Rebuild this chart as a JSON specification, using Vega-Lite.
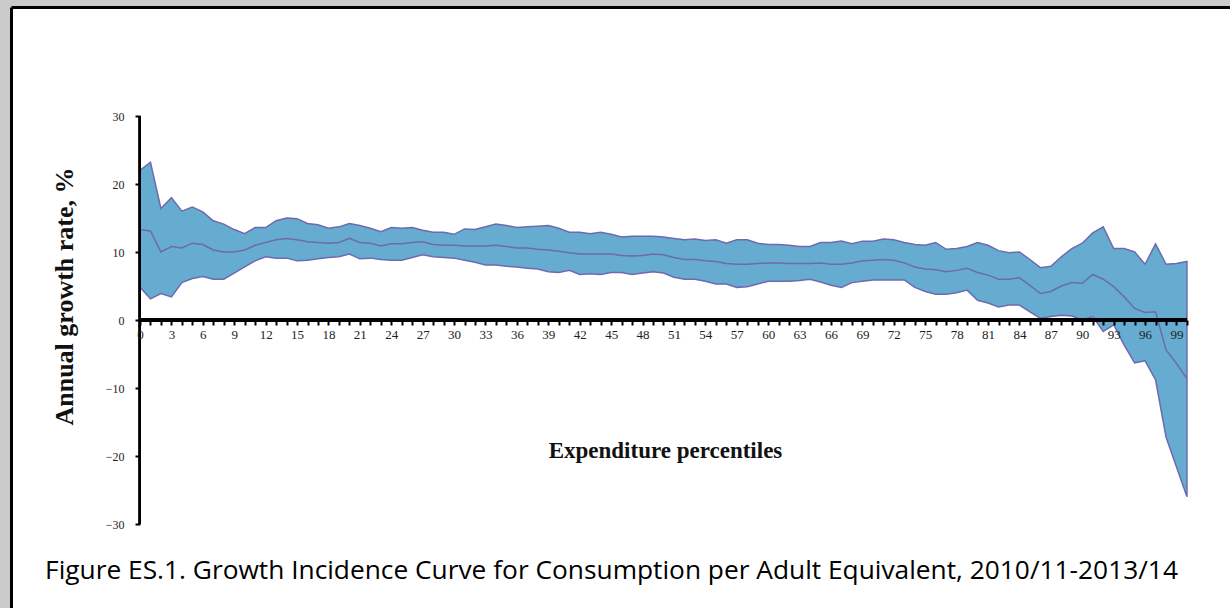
{
  "$schema": "https://vega.github.io/schema/vega-lite/v6.json",
  "width": 1219,
  "height": 601,
  "autosize": {"type": "none"},
  "padding": {"left": 11, "top": 7, "right": 0, "bottom": 0},
  "background": "#cbcbcb",
  "config": {"view": {"fill": "white", "stroke": null}},
  "title": {
    "text": "Figure ES.1. Growth Incidence Curve for Consumption per Adult Equivalent, 2010/11-2013/14",
    "orient": "bottom",
    "anchor": "middle",
    "frame": "group",
    "offset": -29,
    "baseline": "alphabetic",
    "font": "Open Sans",
    "fontSize": 26.3,
    "fontWeight": "normal",
    "color": "#000000",
    "dx": -9
  },
  "data": {
    "values": [
      {"p": 0, "lo": 4.8, "mid": 13.3, "hi": 22.0},
      {"p": 1, "lo": 3.1, "mid": 13.1, "hi": 23.2},
      {"p": 2, "lo": 3.9, "mid": 10.0, "hi": 16.4},
      {"p": 3, "lo": 3.4, "mid": 10.8, "hi": 18.0},
      {"p": 4, "lo": 5.5, "mid": 10.6, "hi": 16.0},
      {"p": 5, "lo": 6.1, "mid": 11.3, "hi": 16.6},
      {"p": 6, "lo": 6.4, "mid": 11.1, "hi": 15.9},
      {"p": 7, "lo": 6.0, "mid": 10.3, "hi": 14.6},
      {"p": 8, "lo": 6.0, "mid": 10.0, "hi": 14.1},
      {"p": 9, "lo": 6.9, "mid": 10.0, "hi": 13.3},
      {"p": 10, "lo": 7.8, "mid": 10.3, "hi": 12.7},
      {"p": 11, "lo": 8.7, "mid": 11.0, "hi": 13.6},
      {"p": 12, "lo": 9.3, "mid": 11.4, "hi": 13.6},
      {"p": 13, "lo": 9.1, "mid": 11.8, "hi": 14.6},
      {"p": 14, "lo": 9.1, "mid": 12.0, "hi": 15.0},
      {"p": 15, "lo": 8.7, "mid": 11.8, "hi": 14.9},
      {"p": 16, "lo": 8.8, "mid": 11.5, "hi": 14.2},
      {"p": 17, "lo": 9.0, "mid": 11.4, "hi": 14.0},
      {"p": 18, "lo": 9.2, "mid": 11.3, "hi": 13.5},
      {"p": 19, "lo": 9.3, "mid": 11.4, "hi": 13.7},
      {"p": 20, "lo": 9.7, "mid": 12.0, "hi": 14.2},
      {"p": 21, "lo": 9.0, "mid": 11.4, "hi": 13.9},
      {"p": 22, "lo": 9.1, "mid": 11.3, "hi": 13.5},
      {"p": 23, "lo": 8.9, "mid": 10.9, "hi": 13.0},
      {"p": 24, "lo": 8.8, "mid": 11.2, "hi": 13.6},
      {"p": 25, "lo": 8.8, "mid": 11.2, "hi": 13.5},
      {"p": 26, "lo": 9.2, "mid": 11.4, "hi": 13.6},
      {"p": 27, "lo": 9.6, "mid": 11.5, "hi": 13.2},
      {"p": 28, "lo": 9.3, "mid": 11.1, "hi": 12.9},
      {"p": 29, "lo": 9.2, "mid": 11.0, "hi": 12.9},
      {"p": 30, "lo": 9.1, "mid": 11.0, "hi": 12.6},
      {"p": 31, "lo": 8.8, "mid": 10.9, "hi": 13.4},
      {"p": 32, "lo": 8.5, "mid": 10.9, "hi": 13.3},
      {"p": 33, "lo": 8.1, "mid": 10.9, "hi": 13.7},
      {"p": 34, "lo": 8.1, "mid": 11.0, "hi": 14.1},
      {"p": 35, "lo": 7.9, "mid": 10.8, "hi": 13.9},
      {"p": 36, "lo": 7.8, "mid": 10.6, "hi": 13.6},
      {"p": 37, "lo": 7.6, "mid": 10.6, "hi": 13.7},
      {"p": 38, "lo": 7.5, "mid": 10.4, "hi": 13.8},
      {"p": 39, "lo": 7.1, "mid": 10.3, "hi": 13.9},
      {"p": 40, "lo": 7.0, "mid": 10.1, "hi": 13.5},
      {"p": 41, "lo": 7.3, "mid": 9.9, "hi": 12.9},
      {"p": 42, "lo": 6.7, "mid": 9.7, "hi": 12.9},
      {"p": 43, "lo": 6.8, "mid": 9.7, "hi": 12.7},
      {"p": 44, "lo": 6.7, "mid": 9.7, "hi": 12.9},
      {"p": 45, "lo": 7.0, "mid": 9.7, "hi": 12.6},
      {"p": 46, "lo": 7.0, "mid": 9.5, "hi": 12.2},
      {"p": 47, "lo": 6.7, "mid": 9.4, "hi": 12.3},
      {"p": 48, "lo": 6.9, "mid": 9.5, "hi": 12.3},
      {"p": 49, "lo": 7.1, "mid": 9.7, "hi": 12.3},
      {"p": 50, "lo": 6.9, "mid": 9.6, "hi": 12.2},
      {"p": 51, "lo": 6.3, "mid": 9.2, "hi": 12.0},
      {"p": 52, "lo": 6.0, "mid": 8.9, "hi": 11.8},
      {"p": 53, "lo": 6.0, "mid": 8.9, "hi": 11.9},
      {"p": 54, "lo": 5.7, "mid": 8.7, "hi": 11.7},
      {"p": 55, "lo": 5.3, "mid": 8.6, "hi": 11.8},
      {"p": 56, "lo": 5.3, "mid": 8.3, "hi": 11.3},
      {"p": 57, "lo": 4.8, "mid": 8.2, "hi": 11.8},
      {"p": 58, "lo": 4.9, "mid": 8.2, "hi": 11.8},
      {"p": 59, "lo": 5.3, "mid": 8.3, "hi": 11.3},
      {"p": 60, "lo": 5.7, "mid": 8.4, "hi": 11.1},
      {"p": 61, "lo": 5.7, "mid": 8.4, "hi": 11.1},
      {"p": 62, "lo": 5.7, "mid": 8.3, "hi": 11.0},
      {"p": 63, "lo": 5.8, "mid": 8.3, "hi": 10.8},
      {"p": 64, "lo": 6.0, "mid": 8.3, "hi": 10.8},
      {"p": 65, "lo": 5.6, "mid": 8.4, "hi": 11.4},
      {"p": 66, "lo": 5.1, "mid": 8.2, "hi": 11.4},
      {"p": 67, "lo": 4.8, "mid": 8.2, "hi": 11.6},
      {"p": 68, "lo": 5.5, "mid": 8.4, "hi": 11.2},
      {"p": 69, "lo": 5.7, "mid": 8.7, "hi": 11.6},
      {"p": 70, "lo": 5.9, "mid": 8.8, "hi": 11.6},
      {"p": 71, "lo": 5.9, "mid": 8.9, "hi": 11.9},
      {"p": 72, "lo": 5.9, "mid": 8.8, "hi": 11.8},
      {"p": 73, "lo": 5.9, "mid": 8.4, "hi": 11.4},
      {"p": 74, "lo": 4.8, "mid": 7.8, "hi": 11.1},
      {"p": 75, "lo": 4.2, "mid": 7.5, "hi": 11.0},
      {"p": 76, "lo": 3.8, "mid": 7.4, "hi": 11.4},
      {"p": 77, "lo": 3.8, "mid": 7.1, "hi": 10.4},
      {"p": 78, "lo": 4.0, "mid": 7.3, "hi": 10.5},
      {"p": 79, "lo": 4.4, "mid": 7.6, "hi": 10.8},
      {"p": 80, "lo": 2.9, "mid": 7.0, "hi": 11.4},
      {"p": 81, "lo": 2.5, "mid": 6.6, "hi": 11.0},
      {"p": 82, "lo": 1.9, "mid": 6.0, "hi": 10.2},
      {"p": 83, "lo": 2.2, "mid": 6.0, "hi": 9.9},
      {"p": 84, "lo": 2.2, "mid": 6.2, "hi": 10.0},
      {"p": 85, "lo": 1.2, "mid": 5.1, "hi": 8.9},
      {"p": 86, "lo": 0.25, "mid": 3.9, "hi": 7.7},
      {"p": 87, "lo": 0.5, "mid": 4.2, "hi": 7.9},
      {"p": 88, "lo": 0.7, "mid": 5.0, "hi": 9.3},
      {"p": 89, "lo": 0.6, "mid": 5.5, "hi": 10.5},
      {"p": 90, "lo": 0.0, "mid": 5.4, "hi": 11.3},
      {"p": 91, "lo": 0.5, "mid": 6.7, "hi": 12.8},
      {"p": 92, "lo": -1.7, "mid": 6.0, "hi": 13.7},
      {"p": 93, "lo": -0.7, "mid": 4.9, "hi": 10.5},
      {"p": 94, "lo": -3.7, "mid": 3.4, "hi": 10.5},
      {"p": 95, "lo": -6.3, "mid": 1.7, "hi": 10.0},
      {"p": 96, "lo": -6.0, "mid": 1.1, "hi": 8.2},
      {"p": 97, "lo": -8.8, "mid": 1.2, "hi": 11.2},
      {"p": 98, "lo": -17.2, "mid": -4.4, "hi": 8.2},
      {"p": 99, "lo": -21.6, "mid": -6.4, "hi": 8.3},
      {"p": 100, "lo": -26.0, "mid": -8.6, "hi": 8.6}
    ]
  },
  "layer": [
    {
      "mark": {"type": "area", "fill": "#66acd0", "stroke": "#6d6aae", "strokeWidth": 1.5, "opacity": 1, "fillOpacity": 1},
      "encoding": {
        "x": {
          "field": "p", "type": "quantitative",
          "scale": {"domain": [-12.32, 104.11], "nice": false, "zero": false},
          "axis": {
            "orient": "bottom", "offset": -288, "zindex": 2,
            "values": [0,1,2,3,4,5,6,7,8,9,10,11,12,13,14,15,16,17,18,19,20,21,22,23,24,25,26,27,28,29,30,31,32,33,34,35,36,37,38,39,40,41,42,43,44,45,46,47,48,49,50,51,52,53,54,55,56,57,58,59,60,61,62,63,64,65,66,67,68,69,70,71,72,73,74,75,76,77,78,79,80,81,82,83,84,85,86,87,88,89,90,91,92,93,94,95,96,97,98,99,100],
            "domain": false, "grid": false,
            "ticks": true, "tickSize": 5, "tickWidth": 2, "tickColor": "#000000",
            "labelExpr": "datum.value % 3 === 0 ? datum.label : ''",
            "labelFont": "Liberation Serif", "labelFontSize": 13, "labelColor": "#222222",
            "labelPadding": 3, "labelFlush": false, "labelOverlap": false, "labelBound": false,
            "title": "Expenditure  percentiles",
            "titleFont": "Liberation Serif", "titleFontSize": 23, "titleFontWeight": "bold", "titleColor": "#111111",
            "titleX": 654, "titleY": 130, "titleAlign": "center", "titleBaseline": "middle"
          }
        },
        "y": {
          "field": "lo", "type": "quantitative",
          "scale": {"domain": [-42.35, 46.03], "nice": false, "zero": false},
          "axis": {
            "orient": "left", "offset": -129, "zindex": 2,
            "values": [-30, -20, -10, 0, 10, 20, 30],
            "domain": false, "grid": false,
            "ticks": true, "tickSize": 5, "tickWidth": 2, "tickColor": "#000000",
            "labelFont": "Liberation Serif", "labelFontSize": 12, "labelColor": "#222222",
            "labelPadding": 11, "labelBound": false, "labelFlush": false,
            "title": "Annual growth rate, %",
            "titleFont": "Liberation Serif", "titleFontSize": 26, "titleFontWeight": "bold", "titleColor": "#111111",
            "titleX": -76, "titleY": 289, "titleAngle": -90, "titleAlign": "center", "titleBaseline": "middle"
          }
        },
        "y2": {"field": "hi"}
      }
    },
    {
      "mark": {"type": "line", "color": "#6d6aae", "strokeWidth": 1.5},
      "encoding": {
        "x": {"field": "p", "type": "quantitative", "axis": null},
        "y": {"field": "mid", "type": "quantitative", "axis": null}
      }
    },
    {
      "mark": {"type": "rule", "color": "#000000", "strokeWidth": 2},
      "encoding": {
        "x": {"datum": 0, "type": "quantitative",
          "axis": {"orient": "top", "domain": true, "domainColor": "#000000", "domainWidth": 3, "ticks": false, "labels": false, "grid": false, "title": null}},
        "y": {"datum": -30, "type": "quantitative",
          "axis": {"orient": "left", "domain": true, "domainColor": "#000000", "domainWidth": 3, "ticks": false, "labels": false, "grid": false, "title": null}},
        "y2": {"datum": 30}
      }
    },
    {
      "mark": {"type": "rule", "color": "#000000", "strokeWidth": 2.5},
      "encoding": {
        "x": {"datum": 0, "type": "quantitative", "axis": null},
        "x2": {"datum": 100},
        "y": {"datum": 0, "type": "quantitative", "axis": null}
      }
    }
  ],
  "resolve": {"axis": {"x": "independent", "y": "independent"}}
}
